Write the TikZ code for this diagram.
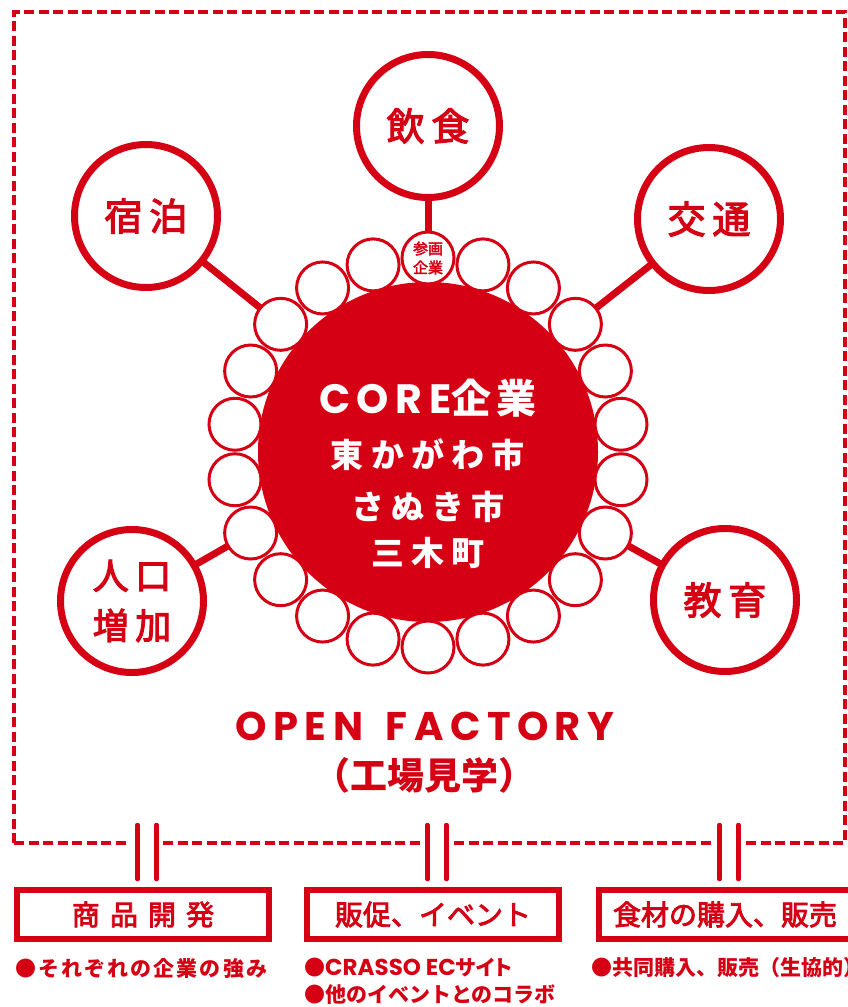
\documentclass[tikz,border=0pt]{standalone}
\usepackage{fontspec}
\newfontfamily\jp{Noto Sans CJK JP}
\newfontfamily\jpm{Noto Sans CJK JP}[FakeBold=3]
\newfontfamily\pop{Poppins}
\usetikzlibrary{backgrounds}
\definecolor{cr}{RGB}{214,0,21}
\newcommand{\fs}[1]{\fontsize{#1}{#1}\selectfont}
\newcommand{\lsp}[1]{\addfontfeature{LetterSpace=#1}}
\begin{document}
\begin{tikzpicture}[x=1pt,y=-1pt,
  sat/.style={circle,draw=cr,line width=7pt,fill=white,minimum size=143pt,inner sep=0pt,text=cr,font=\jpm\fs{38},align=center},
  bead/.style={circle,draw=cr,line width=3pt,fill=white,minimum size=52pt,inner sep=0pt},
  link/.style={draw=cr,line width=7pt},
  border/.style={draw=cr,line width=4pt,dash pattern=on 10pt off 4.5pt},
  bar/.style={draw=cr,line width=4.5pt,line cap=round},
  topic/.style={draw=cr,line width=6pt,minimum width=252pt,minimum height=49pt,inner sep=0pt,text=cr,font=\jpm\fs{28}},
  note/.style={anchor=west,inner sep=0pt,text=cr,font=\jp\bfseries\fs{21}},
  core/.style={text=white,inner sep=0pt,font=\jp\bfseries\fs{33}}]
\useasboundingbox (0,0) rectangle (847,1007);

% central disk and ring of beads
\node[circle,fill=cr,minimum size=340pt,inner sep=0pt] (core) at (428,452) {};
\node[bead,text=cr,align=center,font=\jpm\fontsize{15}{19}\selectfont] (b0) at (428,258) {参画\\企業};
\foreach \k in {1,...,21} {
  \node[bead] (b\k) at ({428+195*sin(\k*360/22)},{452-195*cos(\k*360/22)}) {};
}

% satellites
\node[sat] (inshoku) at (428,126) {\lsp{18}飲食};
\node[sat] (shukuhaku) at (146,216) {\lsp{18}宿泊};
\node[sat] (kotsu) at (709,219) {\lsp{18}交通};
\node[sat,font=\jpm\fontsize{36}{50}\selectfont] (jinko) at (132,601) {\lsp{18}人口\\\lsp{18}増加};
\node[sat] (kyoiku) at (725,600) {\lsp{18}教育};

\begin{scope}[on background layer]
  \draw[link] (inshoku.center) -- (b0.center);
  \draw[link] (shukuhaku.center) -- (b19.center);
  \draw[link] (kotsu.center) -- (b3.center);
  \draw[link] (jinko.center) -- (b15.center);
  \draw[link] (kyoiku.center) -- (b7.center);
\end{scope}

% core text
\node[core,font=\jp\bfseries\fs{40}] (t1) at (428,398) {{\pop\bfseries\fs{41}\lsp{16}CORE}\lsp{14}企業};
\node[core] (t2) at (428,455) {\lsp{22}東かがわ市};
\node[core] (t3) at (428,507) {\lsp{22}さぬき市};
\node[core] (t4) at (428,553) {\lsp{22}三木町};

% open factory
\node[text=cr,inner sep=0pt,font=\pop\bfseries\fs{40}] (of) at (425,726) {\lsp{16}OPEN~\kern8pt FACTORY};
\node[text=cr,inner sep=0pt,font=\jp\bfseries\fs{37}] (of2) at (424,775) {（工場見学）};

% dashed border
\draw[border] (14,843) -- (14,12) -- (845,12) -- (845,843);
\draw[border] (14,843) -- (130,843);
\draw[border] (163,843) -- (420,843);
\draw[border] (454,843) -- (712,843);
\draw[border] (746,843) -- (845,843);

% boxes
\node[topic] (box1) at (143,914.5) {\lsp{36}商品開発};
\node[topic] (box2) at (433,914.5) {販促、イベント};
\node[topic] (box3) at (725,914.5) {食材の購入、販売};

% double bars
\foreach \n/\c in {1/147,2/437,3/729} {
  \coordinate (u\n a) at (\c-9.5,825);
  \coordinate (d\n a) at (\c-9.5,879);
  \coordinate (u\n b) at (\c+9.5,825);
  \coordinate (d\n b) at (\c+9.5,879);
  \draw[bar] (u\n a) -- (d\n a);
  \draw[bar] (u\n b) -- (d\n b);
}

% notes
\node[note] (n1) at (15,968) {\lsp{10}●それぞれの企業の強み};
\node[note] (n2) at (304,968) {●{\pop\bfseries\fs{23}CRASSO EC}\addfontfeature{RawFeature=+palt}サイト};
\node[note] (n3) at (304,995) {●他のイベントとのコラボ};
\node[note] (n4) at (591,968) {●共同購入、販売（生協的）};
\end{tikzpicture}
\end{document}
